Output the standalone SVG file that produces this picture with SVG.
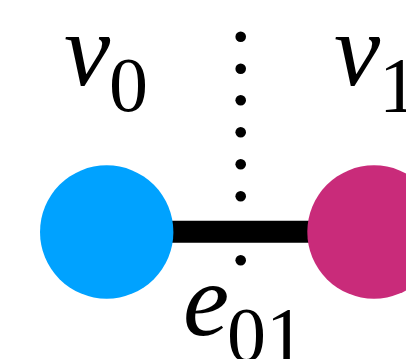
<svg xmlns="http://www.w3.org/2000/svg" width="406" height="359" viewBox="0 0 406 359">
<style>
.it{font-family:'Liberation Serif','Times New Roman',serif;font-style:italic;font-size:104px;fill:#000}
.sub{font-family:'Liberation Serif','Times New Roman',serif;font-size:78px;fill:#000}
.dot{fill:#000}
</style>
<rect width="406" height="359" fill="#fff"/>
<g id="connectors">
<line id="e01" x1="106.7" y1="231.7" x2="374" y2="231.7" stroke="#000" stroke-width="22"/>
<g id="dots">
<circle class="dot" cx="240.7" cy="36.7" r="5.3"/>
<circle class="dot" cx="240.7" cy="68.7" r="5.3"/>
<circle class="dot" cx="240.7" cy="100.3" r="5.3"/>
<circle class="dot" cx="240.7" cy="132.3" r="5.3"/>
<circle class="dot" cx="240.7" cy="164.3" r="5.3"/>
<circle class="dot" cx="240.7" cy="196.3" r="5.3"/>
<circle class="dot" cx="240.7" cy="260.3" r="5.3"/>
</g>
</g>
<g id="v0">
<circle cx="106.7" cy="232" r="66.7" fill="#00A2FF"/>
<text class="it" x="64" y="85">v</text><text class="sub" x="109" y="111">0</text>
</g>
<g id="v1">
<circle cx="374" cy="232" r="66.7" fill="#C92B7A"/>
<text class="it" x="334" y="85">v</text><text class="sub" x="379" y="111">1</text>
</g>
<g id="e01label">
<text class="it" x="183" y="335">e</text><text class="sub" x="227" y="361">01</text>
</g>
</svg>
